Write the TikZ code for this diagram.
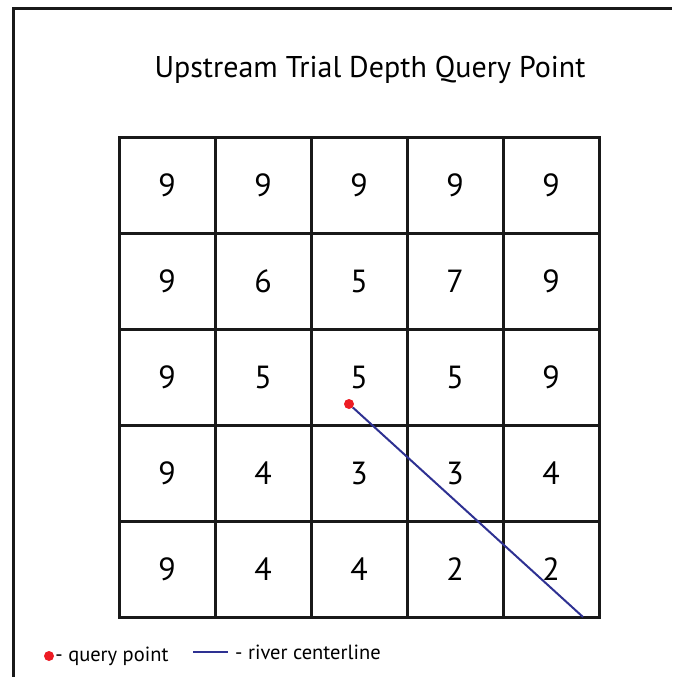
\documentclass[tikz,border=0pt]{standalone}
\usepackage{fontspec}
\setmainfont{PT Sans}
\usetikzlibrary{positioning}
\definecolor{riverblue}{RGB}{46,49,146}
\definecolor{queryred}{RGB}{237,28,36}

\tikzset{
  cell/.style={draw=black!90, line width=3pt, minimum size=96pt, inner sep=0pt,
    font=\fontsize{32}{34}\selectfont},
  qdot/.style={circle, fill=queryred, minimum size=10pt, inner sep=0pt},
  riverline/.style={draw=riverblue, line width=2pt},
  legend/.style={inner sep=0pt, font=\fontsize{20.5}{22}\selectfont},
}

\begin{document}
\begin{tikzpicture}[x=1pt,y=-1pt]
\useasboundingbox (0,0) rectangle (672,677);

% frame
\draw[black!90, line width=3pt] (13,677) -- (13,9) -- (672,9);

% title
\node[font=\fontsize{30}{34}\selectfont] (title) at (370,70) {Upstream Trial Depth Query Point};

% depth grid
\foreach \vals [count=\r] in {{9,9,9,9,9},{9,6,5,7,9},{9,5,5,5,9},{9,4,3,3,4},{9,4,4,2,2}}
  \foreach \v [count=\c] in \vals
    \node[cell] (c\r\c) at ({119+96*\c-48},{137+96*\r-48}) {\raisebox{-3pt}{\v}};

% query point and centerline
\node[qdot] (q) at (349,404) {};
\coordinate (mouth) at (583,617);
\draw[riverline] (q) -- (mouth);

% legend
\node[qdot] (legdot) at (49,656) {};
\node[legend, right=1pt of legdot] (legq) {- query point};
\coordinate (la) at (193,652);
\coordinate (lb) at (228,652);
\draw[riverline] (la) -- (lb);
\node[legend, right=7pt of lb] (legr) {- river centerline};

\end{tikzpicture}
\end{document}
